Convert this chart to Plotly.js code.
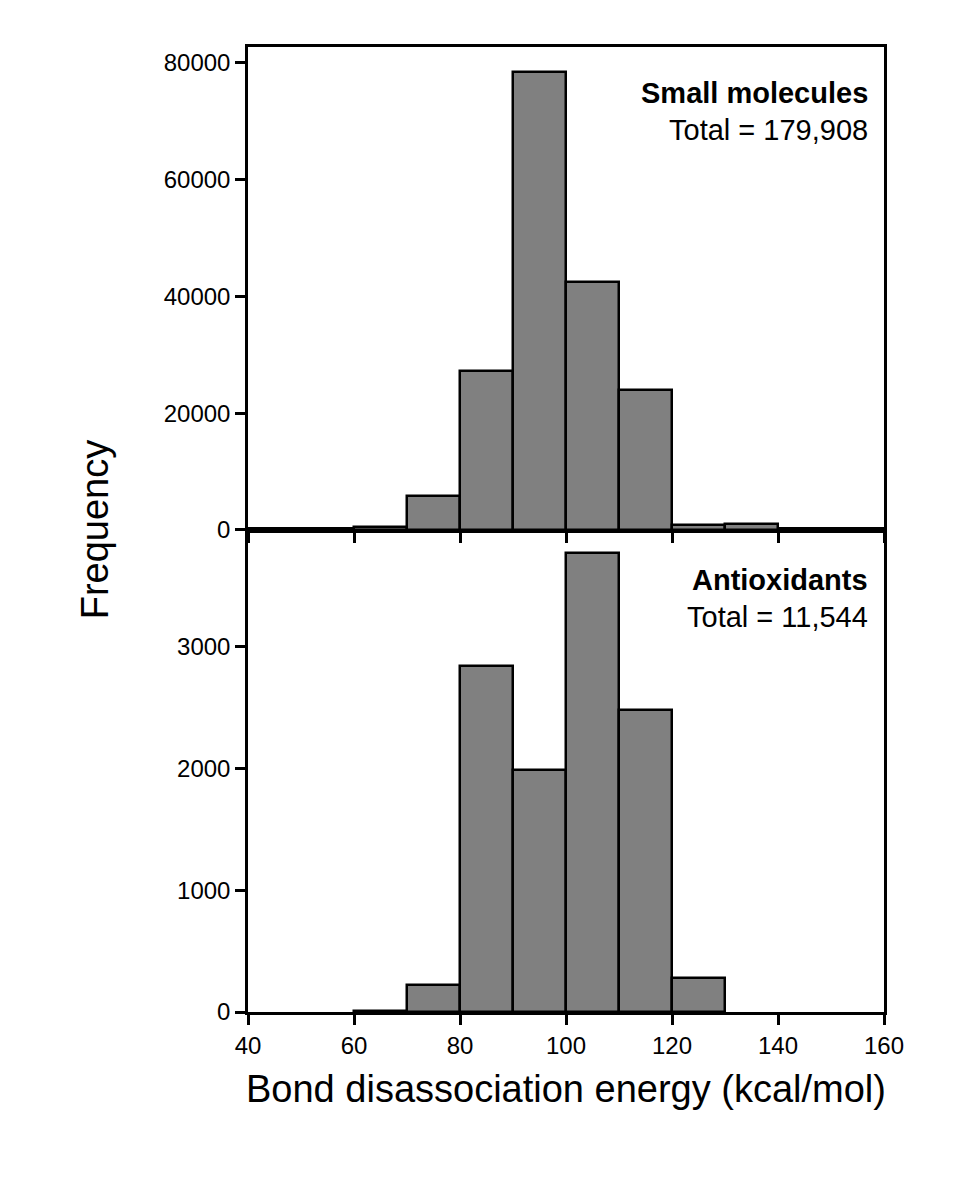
<!DOCTYPE html>
<html><head><script src="https://cdn.plot.ly/plotly-3.0.1.min.js"></script></head>
<body style="margin:0"><div id="plot" style="width:960px;height:1180px"></div>
<script>
var binCenters = [55, 65, 75, 85, 95, 105, 115, 125, 135, 145];
var smallMolecules = [120, 500, 5800, 27300, 78500, 42500, 24000, 800, 1000, 0];
var antioxidants = [0, 10, 220, 2840, 1990, 3770, 2480, 280, 0, 0];

// empty bins are not drawn
function hideZero(v) { return v.map(function (d) { return d === 0 ? null : d; }); }

var barStyle = {color: "#808080", line: {color: "black", width: 2.5}};
var data = [
  {x: binCenters, y: hideZero(smallMolecules), type: "bar", width: 10, marker: barStyle, xaxis: "x2", yaxis: "y2"},
  {x: binCenters, y: hideZero(antioxidants), type: "bar", width: 10, marker: barStyle, xaxis: "x", yaxis: "y"}
];
var fam = "Liberation Sans, Arial";
var font = {family: fam, size: 24, color: "black"};
var noteFont = {family: fam, size: 29, color: "black"};
var ax = {showgrid: false, zeroline: false, showline: true, linecolor: "black", linewidth: 2.5,
  mirror: true, ticks: "outside", ticklen: 10, tickwidth: 2.5, tickcolor: "black", tickfont: font};
var layout = {
  width: 960, height: 1180, showlegend: false, bargap: 0,
  paper_bgcolor: "white", plot_bgcolor: "white",
  margin: {l: 248, r: 76, t: 47, b: 168},
  xaxis: Object.assign({}, ax, {range: [40, 160], dtick: 20, domain: [0, 1],
    title: {text: "Bond disassociation energy (kcal/mol)", font: {family: fam, size: 38, color: "black"}, standoff: 18}}),
  yaxis: Object.assign({}, ax, {range: [0, 3960], tickvals: [0, 1000, 2000, 3000], tickformat: "d", domain: [0, 0.4995]}),
  xaxis2: Object.assign({}, ax, {range: [40, 160], dtick: 20, anchor: "y2", showticklabels: false}),
  yaxis2: Object.assign({}, ax, {range: [0, 82700], tickvals: [0, 20000, 40000, 60000, 80000], tickformat: "d", domain: [0.4995, 1], anchor: "x2"}),
  annotations: [
    {text: "Frequency", xref: "paper", yref: "paper", x: -0.277, y: 0.5, textangle: -90, showarrow: false,
      font: {family: fam, size: 38, color: "black"}},
    {text: "<b>Small molecules</b>", xref: "paper", yref: "paper", x: 0.978, y: 0.952, xanchor: "right", yanchor: "middle", showarrow: false, font: noteFont},
    {text: "Total = 179,908", xref: "paper", yref: "paper", x: 0.978, y: 0.914, xanchor: "right", yanchor: "middle", showarrow: false, font: noteFont},
    {text: "<b>Antioxidants</b>", xref: "paper", yref: "paper", x: 0.978, y: 0.448, xanchor: "right", yanchor: "middle", showarrow: false, font: noteFont},
    {text: "Total = 11,544", xref: "paper", yref: "paper", x: 0.978, y: 0.409, xanchor: "right", yanchor: "middle", showarrow: false, font: noteFont}
  ]
};
Plotly.newPlot("plot", data, layout, {displayModeBar: false});
</script></body></html>
